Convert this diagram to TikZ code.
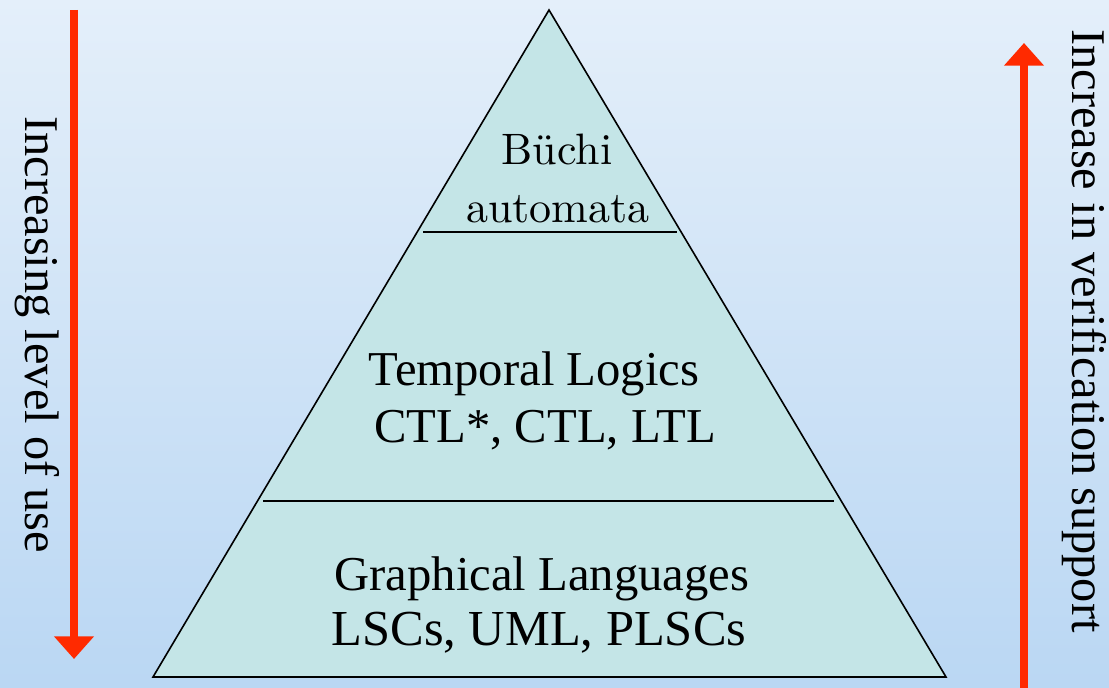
\documentclass[tikz,border=0pt]{standalone}
\usepackage{fontspec}
\setmainfont{Liberation Serif}
\newfontfamily\lmfont{lmroman10-regular.otf}
\usetikzlibrary{arrows.meta}
\definecolor{bgtop}{HTML}{E4EFFA}
\definecolor{bgbottom}{HTML}{BAD7F3}
\definecolor{tierfill}{HTML}{C4E5E7}
\definecolor{arrowred}{HTML}{FF2A00}
\tikzset{
  tiertext/.style={inner sep=0pt, anchor=base, font=\fontsize{36.5}{43}\selectfont},
  toptext/.style={inner sep=0pt, anchor=base, font=\lmfont\fontsize{33}{40}\selectfont},
  sidetext/.style={inner sep=0pt, anchor=base west, rotate=-90, font=\fontsize{36.3}{43}\selectfont},
  bigarrow/.style={arrowred, line width=5.4pt, -{Triangle[width=29pt, length=17pt]}},
  divider/.style={line width=1.2pt}
}
\begin{document}
\begin{tikzpicture}[x=0.75pt, y=-0.75pt]
  % page and background
  \useasboundingbox (0,0) rectangle (1109,688);
  \shade[top color=bgtop, bottom color=bgbottom] (0,0) rectangle (1109,688);

  % pyramid
  \coordinate (apex) at (549,10);
  \coordinate (bl) at (153,677);
  \coordinate (br) at (946,677);
  \filldraw[fill=tierfill, draw=black, line width=1.2pt, line join=miter] (apex) -- (br) -- (bl) -- cycle;

  % tier dividers
  \coordinate (d1l) at (423,232);
  \coordinate (d1r) at (677,232);
  \coordinate (d2l) at (263,501);
  \coordinate (d2r) at (834,501);
  \draw[divider] (d1l) -- (d1r);
  \draw[divider] (d2l) -- (d2r);

  % tier labels
  \node[toptext] (bu1) at (557,165) {Büchi};
  \node[toptext] (bu2) at (558,222) {automata};
  \node[tiertext] (tl1) at (534,385) {Temporal Logics};
  \node[tiertext] (tl2) at (545,442) {CTL*, CTL, LTL};
  \node[tiertext] (gl1) at (542,590) {Graphical Languages};
  \node[tiertext, font=\fontsize{37.8}{43}\selectfont] (gl2) at (539,645) {LSCs, UML, PLSCs};

  % side arrows
  \coordinate (la1) at (74,10);
  \coordinate (la2) at (74,659);
  \draw[bigarrow] (la1) -- (la2);
  \coordinate (ra1) at (1024,690);
  \coordinate (ra2) at (1024,43);
  \draw[bigarrow] (ra1) -- (ra2);

  % side labels
  \node[sidetext] (lt) at (25,116) {Increasing level of use};
  \node[sidetext] (rt) at (1072,29) {Increase in verification support};
\end{tikzpicture}
\end{document}
